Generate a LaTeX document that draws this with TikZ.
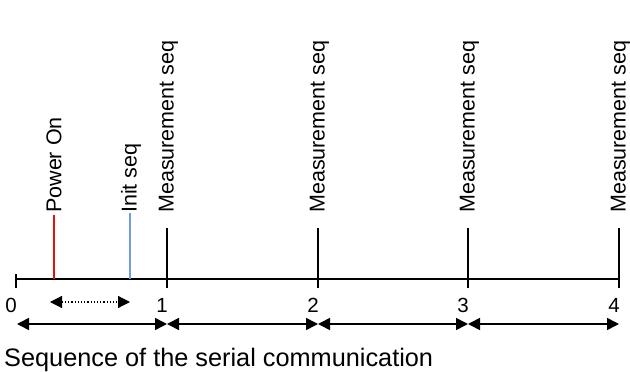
\documentclass[tikz,border=0pt]{standalone}
\usepackage{fontspec}
\setmainfont{Liberation Sans}
\usetikzlibrary{arrows.meta}
\definecolor{poweron}{HTML}{E01010}
\definecolor{initseq}{HTML}{6E9DE8}
\begin{document}
\begin{tikzpicture}[x=1pt,y=-1pt,
  axisline/.style={line width=1.6pt},
  tickline/.style={line width=1.6pt},
  eventlabel/.style={rotate=90,anchor=west,inner sep=0pt,font=\fontsize{21.5}{24}\selectfont},
  ticklabel/.style={anchor=base,inner sep=0pt,font=\fontsize{20.5}{24}\selectfont},
  span/.style={line width=1.6pt,{Triangle[length=12pt,width=12pt]}-{Triangle[length=12pt,width=12pt]}},
  dotspan/.style={line width=1.2pt,dotted,{Triangle[length=12pt,width=12pt]}-{Triangle[length=12pt,width=12pt]}}]
\useasboundingbox (0,0) rectangle (630,372);

% time axis
\coordinate (t0) at (16,279);
\coordinate (t4) at (619,279);
\draw[axisline] (t0) -- (t4);
\draw[tickline] (16,274) coordinate (s0) -- (16,288) coordinate (e0);

% power on and init markers
\coordinate (pw) at (54,279);
\coordinate (in) at (130,279);
\coordinate (pwtop) at (54,215);
\coordinate (intop) at (130,213);
\draw[tickline,poweron] (pw) -- (pwtop);
\draw[tickline,initseq] (in) -- (intop);
\node[eventlabel] (lpw) at (54,213) {Power On};
\node[eventlabel] (lin) at (131,213) {Init seq};

% measurement sequence markers
\foreach \i/\x in {1/167,2/318,3/468,4/619}{
  \coordinate (m\i) at (\x,228);
  \coordinate (b\i) at (\x,288);
  \draw[tickline] (m\i) -- (b\i);
  \node[eventlabel] (lm\i) at (\x+1.5,213) {Measurement seq};
}

% tick labels
\node[ticklabel] (n0) at (11,312) {0};
\node[ticklabel] (n1) at (162,312) {1};
\node[ticklabel] (n2) at (313,312) {2};
\node[ticklabel] (n3) at (463,312) {3};
\node[ticklabel] (n4) at (614,312) {4};

% init duration
\coordinate (d0) at (50,302);
\coordinate (d1) at (130,302);
\draw[dotspan] (d0) -- (d1);

% sequence periods
\coordinate (p0) at (17,324);
\coordinate (p1) at (167,324);
\coordinate (p2) at (318,324);
\coordinate (p3) at (468,324);
\coordinate (p4) at (619,324);
\draw[span] (p0) -- (p1);
\draw[span] (p1) -- (p2);
\draw[span] (p2) -- (p3);
\draw[span] (p3) -- (p4);

\node[anchor=base west,inner sep=0pt,font=\fontsize{25.3}{30}\selectfont] (caption) at (4,366) {Sequence of the serial communication};
\end{tikzpicture}
\end{document}
